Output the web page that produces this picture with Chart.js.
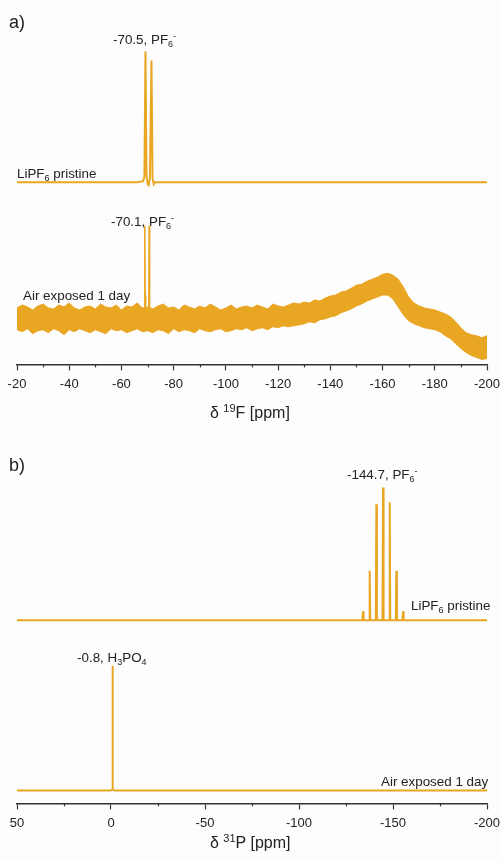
<!DOCTYPE html>
<html lang="en">
<head>
    <meta charset="UTF-8">
    <title>19F and 31P NMR spectra</title>
    <style>
        body { margin: 0; background: #fdfdfd; font-family: "Liberation Sans", Arial, sans-serif; color: #222; }
        #wrap { position: relative; width: 501px; height: 860px; overflow: hidden; }
        canvas { position: absolute; left: 0; }
        .lbl { position: absolute; font-size: 13.4px; line-height: 13px; white-space: nowrap; }
        .lbl sub, .lbl sup { font-size: 9px; line-height: 0; }
        .lbl sub { vertical-align: -3px; }
        .lbl sup { vertical-align: 5px; }
        .panel { font-size: 18px; line-height: 18px; }
        .axt { font-size: 16px; line-height: 16px; }
        .axt sup { font-size: 11px; vertical-align: 6px; }
    </style>
</head>
<body>
<div id="wrap">
    <canvas id="f19" width="501" height="404" style="top:0"></canvas>
    <canvas id="p31" width="501" height="404" style="top:439px"></canvas>

    <!-- labels panel a -->
    <span class="lbl panel" style="left:9px; top:13px">a)</span>
    <span class="lbl" style="left:113px; top:33px">-70.5, PF<sub>6</sub><sup>-</sup></span>
    <span class="lbl" style="left:17px; top:167px">LiPF<sub>6</sub> pristine</span>
    <span class="lbl" style="left:111px; top:215px">-70.1, PF<sub>6</sub><sup>-</sup></span>
    <span class="lbl" style="left:23px; top:289px">Air exposed 1 day</span>
    <span class="lbl axt" style="left:210px; top:405px">&delta; <sup>19</sup>F [ppm]</span>

    <!-- labels panel b -->
    <span class="lbl panel" style="left:9px; top:456px">b)</span>
    <span class="lbl" style="left:347px; top:468px">-144.7, PF<sub>6</sub><sup>-</sup></span>
    <span class="lbl" style="left:411px; top:599px">LiPF<sub>6</sub> pristine</span>
    <span class="lbl" style="left:77px; top:651px">-0.8, H<sub>3</sub>PO<sub>4</sub></span>
    <span class="lbl" style="left:381px; top:775px">Air exposed 1 day</span>
    <span class="lbl axt" style="left:210px; top:835px">&delta; <sup>31</sup>P [ppm]</span>
</div>

<script src="https://cdn.jsdelivr.net/npm/chart.js"></script>
<script>
// ---------- 19F panel (a) ----------
// pristine LiPF6: baseline sits 184 units above the axis, PF6- doublet
const priF_ppm = [-20, -66, -68.3, -68.8, -69.2, -69.6, -70.1, -70.4, -70.9, -71.5, -71.9, -72.4, -72.9, -75, -200];
const priF_int = [184, 184, 185, 190, 316, 190, 182, 181, 188, 307, 188, 182, 184, 184, 184];

// air exposed: PF6- doublet sticking out of the noisy band
const airPeakF_ppm = [-68.7, -68.9, -69.0, -69.1, -69.3, -70.3, -70.5, -70.6, -70.7, -70.9];
const airPeakF_int = [50, 70, 140, 70, 50, 50, 70, 140, 70, 50];

// noisy band of the air exposed trace, read as upper / lower envelope
const airF_ppm = [-20, -22, -24, -26, -28, -30, -32, -34, -36, -38, -40, -42, -44, -46, -48, -50,
    -52, -54, -56, -58, -60, -62, -64, -66, -68, -70, -72, -74, -76, -78, -80, -82, -84, -86, -88,
    -90, -92, -94, -96, -98, -100, -102, -104, -106, -108, -110, -112, -114, -116, -118, -120,
    -122, -124, -126, -128, -130, -132, -134, -136, -138, -140, -142, -144, -146, -148, -150,
    -152, -154, -156, -158, -160, -162, -164, -166, -168, -170, -172, -174, -176, -178, -180,
    -182, -184, -186, -188, -190, -192, -194, -196, -198, -200];
const airF_top = [57, 60, 58, 55, 59, 61, 57, 56, 60, 58, 62, 57, 55, 58, 59, 56,
    61, 58, 57, 60, 55, 59, 58, 62, 57, 58,
    56, 59, 61, 57, 58, 55, 60, 58, 56, 59, 57, 61, 58, 55, 57, 60, 56, 58,
    59, 57, 60, 58, 56, 61, 59, 58, 60, 62,
    61, 63, 62, 65, 64, 67, 69, 70, 73, 74, 77, 80, 81, 84, 86, 88, 91, 92,
    90, 86, 78, 68, 62, 59, 57, 56, 55, 53, 51, 48, 43, 37, 32, 30, 29, 27, 29];
const airF_bot = [35, 33, 36, 31, 34, 35, 32, 36, 34, 30, 35, 33, 36, 34, 32, 35,
    33, 31, 36, 34, 35, 32, 34, 36, 33, 34,
    32, 35, 34, 31, 36, 33, 35, 34, 32, 36, 34, 33, 35, 36, 33, 34, 36, 35,
    37, 34, 36, 37, 35, 38, 37, 39, 38, 39,
    40, 41, 43, 42, 45, 46, 48, 49, 52, 54, 56, 59, 61, 64, 66, 68, 70, 70,
    66, 58, 50, 44, 41, 39, 37, 36, 35, 33, 29, 26, 21, 16, 12, 9, 7, 5, 6];

const fTicks = [-200, -180, -160, -140, -120, -100, -80, -60, -40, -20];
const fMinor = [-190, -170, -150, -130, -110, -90, -70, -50, -30];

// ---------- 31P panel (b) ----------
// pristine LiPF6: PF6- septet, baseline 185 units above the axis
const septet_ppm = [-134.05, -137.6, -141.15, -144.7, -148.25, -151.8, -155.35];
const septet_h = [9, 50, 117, 134, 119, 50, 9];
const priP_base = 185;

// air exposed: single H3PO4 line at -0.8 ppm
const airP_ppm = [50, 0.2, -0.6, -0.8, -1.0, -1.8, -200];
const airP_int = [13, 13, 14, 139, 14, 13, 13];

const pTicks = [-200, -150, -100, -50, 0, 50];
const pMinor = [-175, -125, -75, -25, 25];

const orange = '#E9A623';
const axisCol = '#333333';

function pts(xs, ys) {
    return xs.map((x, i) => ({ x: x, y: ys[i] }));
}

// sticks for the septet, built from the read positions and heights
function septetPts() {
    const out = [{ x: 50, y: priP_base }];
    septet_ppm.forEach((p, i) => {
        out.push({ x: p + 0.3, y: priP_base });
        out.push({ x: p, y: priP_base + septet_h[i] });
        out.push({ x: p - 0.3, y: priP_base });
    });
    out.push({ x: -200, y: priP_base });
    return out;
}

// short minor tick marks below the axis line
const minorTickPlugin = {
    id: 'minorTicks',
    afterDraw(chart, args, opts) {
        const sc = chart.scales.x;
        const ctx = chart.ctx;
        ctx.save();
        ctx.strokeStyle = axisCol;
        ctx.lineWidth = 1.2;
        opts.values.forEach(v => {
            const px = Math.round(sc.getPixelForValue(v)) + 0.5;
            ctx.beginPath();
            ctx.moveTo(px, sc.top);
            ctx.lineTo(px, sc.top + 3);
            ctx.stroke();
        });
        ctx.restore();
    }
};

function makeOptions(min, max, tickVals, minorVals, ymax) {
    return {
        responsive: false,
        animation: false,
        events: [],
        layout: { padding: { left: 17, right: 14, top: 0, bottom: 6 } },
        plugins: {
            legend: { display: false },
            tooltip: { enabled: false },
            minorTicks: { values: minorVals }
        },
        elements: { point: { radius: 0 } },
        scales: {
            x: {
                type: 'linear',
                reverse: true,
                min: min,
                max: max,
                afterBuildTicks: (scale) => { scale.ticks = tickVals.map(v => ({ value: v })); },
                ticks: {
                    color: '#222',
                    font: { family: 'Liberation Sans, Arial', size: 13 },
                    padding: 6,
                    maxRotation: 0,
                    autoSkip: false
                },
                grid: { drawOnChartArea: false, drawTicks: true, tickLength: 6, tickColor: axisCol, tickWidth: 1.2 },
                border: { display: true, color: axisCol, width: 1.5 }
            },
            y: { display: false, min: 0, max: ymax }
        }
    };
}

new Chart(document.getElementById('f19'), {
    type: 'line',
    data: {
        datasets: [
            { data: pts(airF_ppm, airF_top), borderColor: orange, borderWidth: 1, backgroundColor: orange, fill: '+1', tension: 0 },
            { data: pts(airF_ppm, airF_bot), borderColor: orange, borderWidth: 1, fill: false, tension: 0 },
            { data: pts(airPeakF_ppm, airPeakF_int), borderColor: orange, borderWidth: 1.5, fill: false, tension: 0 },
            { data: pts(priF_ppm, priF_int), borderColor: orange, borderWidth: 2, fill: false, tension: 0 }
        ]
    },
    options: makeOptions(-200, -20, fTicks, fMinor, 368),
    plugins: [minorTickPlugin]
});

new Chart(document.getElementById('p31'), {
    type: 'line',
    data: {
        datasets: [
            { data: septetPts(), borderColor: orange, borderWidth: 2, fill: false, tension: 0 },
            { data: pts(airP_ppm, airP_int), borderColor: orange, borderWidth: 2, fill: false, tension: 0 }
        ]
    },
    options: makeOptions(-200, 50, pTicks, pMinor, 368),
    plugins: [minorTickPlugin]
});
</script>
</body>
</html>
